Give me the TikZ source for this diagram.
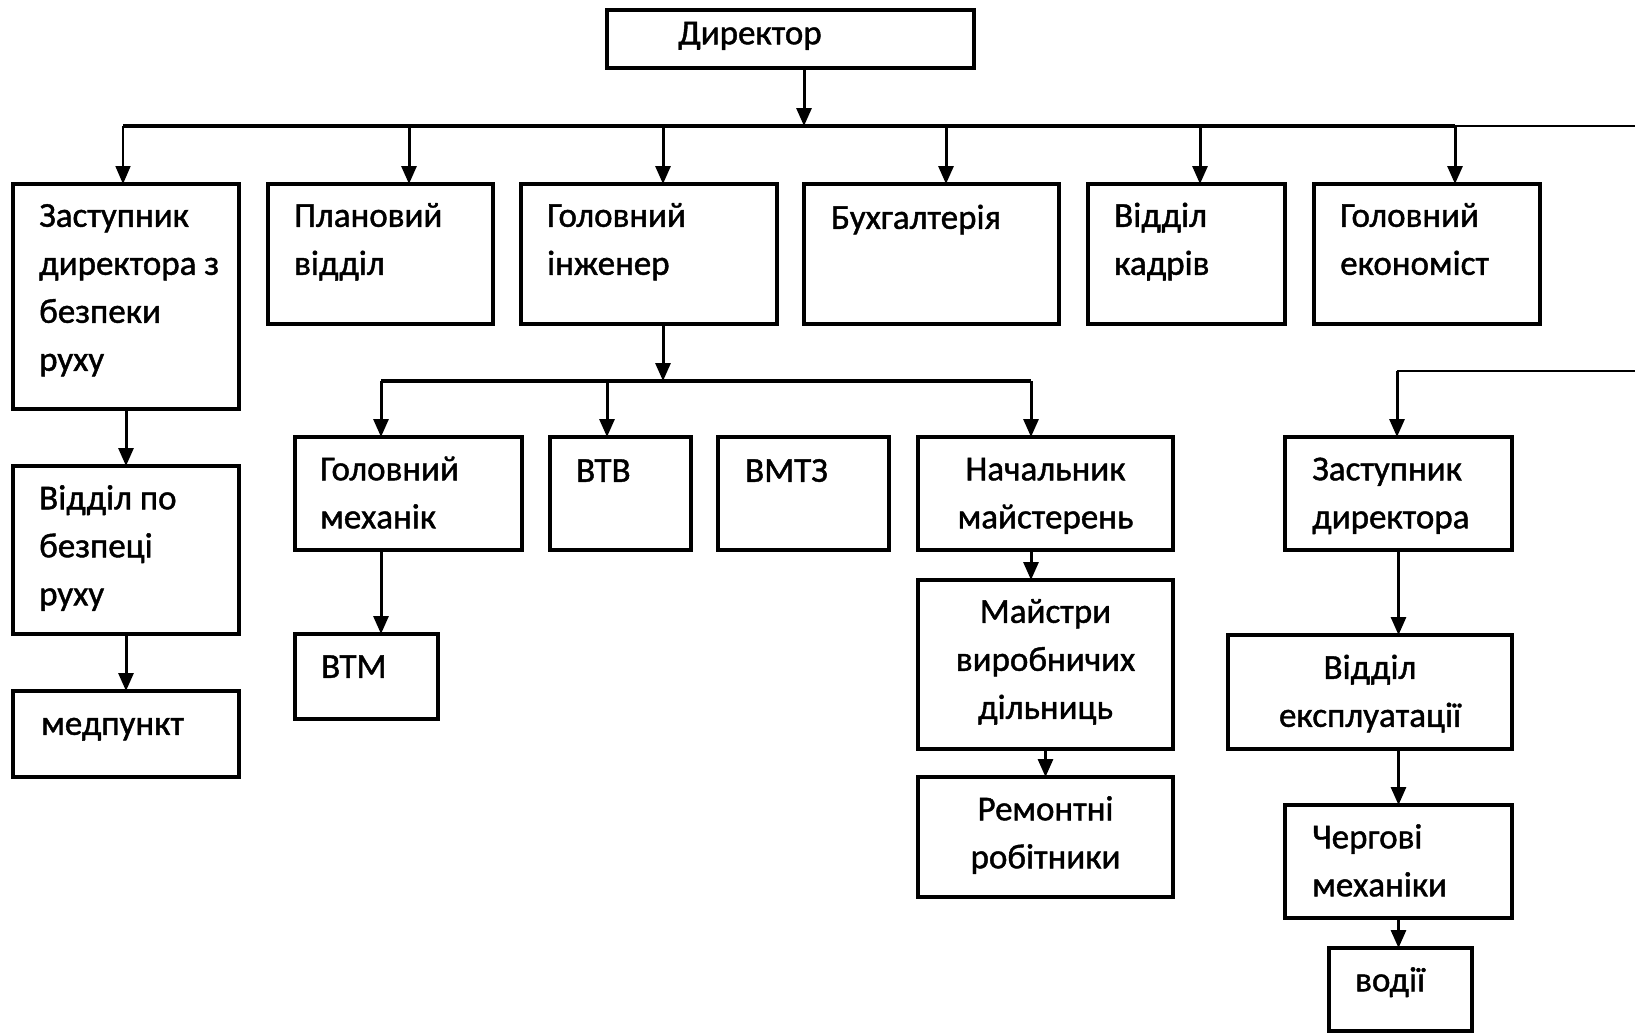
\documentclass[tikz,border=0pt]{standalone}
\usepackage{fontspec}
\setmainfont{Carlito}
\newfontfamily\lblfamily[FakeBold=1.2]{Carlito}
\usetikzlibrary{arrows.meta,calc}
\newcommand\boxfont{\lblfamily\fontsize{35}{48}\selectfont}
\begin{document}
\begin{tikzpicture}[x=1pt,y=-1pt,
  box/.style={draw, line width=3.2pt, rectangle, inner sep=0pt, outer sep=0pt, anchor=north west},
  lbl/.style={anchor=north west, inner sep=0pt, align=left, font=\boxfont},
  lblc/.style={anchor=north, inner sep=0pt, align=center, font=\boxfont},
  bus/.style={line width=3.4pt},
  thinline/.style={line width=1.8pt},
  arr/.style={line width=3pt, -{Triangle[width=15pt,length=18pt]}},
  arrthin/.style={line width=1.8pt, -{Triangle[width=15pt,length=18pt]}},
]
\fill[white] (0,0) rectangle (1635,1033);
\useasboundingbox (0,0) rectangle (1635,1033);

% boxes
\node[box, minimum width=367pt, minimum height=58pt] (dir) at (607,10) {};
\node[box, minimum width=226pt, minimum height=225pt] (z1) at (13,184) {};
\node[box, minimum width=225pt, minimum height=140pt] (plan) at (268,184) {};
\node[box, minimum width=256pt, minimum height=140pt] (gi) at (521,184) {};
\node[box, minimum width=255pt, minimum height=140pt] (buh) at (804,184) {};
\node[box, minimum width=197pt, minimum height=140pt] (vk) at (1088,184) {};
\node[box, minimum width=226pt, minimum height=140pt] (gec) at (1314,184) {};
\node[box, minimum width=227pt, minimum height=113pt] (gm) at (295,437) {};
\node[box, minimum width=141pt, minimum height=113pt] (vtv) at (550,437) {};
\node[box, minimum width=171pt, minimum height=113pt] (vmtz) at (718,437) {};
\node[box, minimum width=255pt, minimum height=113pt] (nm) at (918,437) {};
\node[box, minimum width=227pt, minimum height=113pt] (zd) at (1285,437) {};
\node[box, minimum width=226pt, minimum height=168pt] (vbr) at (13,466) {};
\node[box, minimum width=226pt, minimum height=86pt] (med) at (13,691) {};
\node[box, minimum width=143pt, minimum height=85pt] (vtm) at (295,634) {};
\node[box, minimum width=255pt, minimum height=169pt] (mvd) at (918,580) {};
\node[box, minimum width=255pt, minimum height=120pt] (rr) at (918,777) {};
\node[box, minimum width=284pt, minimum height=114pt] (ve) at (1228,635) {};
\node[box, minimum width=227pt, minimum height=113pt] (chm) at (1285,805) {};
\node[box, minimum width=143pt, minimum height=83pt] (vod) at (1329,948) {};

% texts
\node[lbl] (dirt) at ([shift={(71,0.5)}]dir.north west) {\strut Директор};
\node[lbl] (z1t) at ([shift={(26,9)}]z1.north west) {\strut Заступник\\директора з\\безпеки\\руху};
\node[lbl] (plant) at ([shift={(26,9)}]plan.north west) {\strut Плановий\\відділ};
\node[lbl] (git) at ([shift={(26,9)}]gi.north west) {\strut Головний\\інженер};
\node[lbl] (buht) at ([shift={(27,11)}]buh.north west) {\strut Бухгалтерія};
\node[lbl] (vkt) at ([shift={(26,9)}]vk.north west) {\strut Відділ\\кадрів};
\node[lbl] (gect) at ([shift={(26,9)}]gec.north west) {\strut Головний\\економіст};
\node[lbl] (gmt) at ([shift={(25,9.5)}]gm.north west) {\strut Головний\\механік};
\node[lbl] (vtvt) at ([shift={(26,11)}]vtv.north west) {\strut ВТВ};
\node[lbl] (vmtzt) at ([shift={(27,11)}]vmtz.north west) {\strut ВМТЗ};
\node[lblc] (nmt) at ([shift={(0,9.5)}]nm.north) {\strut Начальник\\майстерень};
\node[lbl] (zdt) at ([shift={(27,9.5)}]zd.north west) {\strut Заступник\\директора};
\node[lbl] (vbrt) at ([shift={(26,9.5)}]vbr.north west) {\strut Відділ по\\безпеці\\руху};
\node[lbl] (medt) at ([shift={(28,10)}]med.north west) {\strut медпункт};
\node[lbl] (vtmt) at ([shift={(26,10)}]vtm.north west) {\strut ВТМ};
\node[lblc] (mvdt) at ([shift={(0,9)}]mvd.north) {\strut Майстри\\виробничих\\дільниць};
\node[lblc] (rrt) at ([shift={(0,9.5)}]rr.north) {\strut Ремонтні\\робітники};
\node[lblc] (vet) at ([shift={(0,10)}]ve.north) {\strut Відділ\\експлуатації};
\node[lbl] (chmt) at ([shift={(27,9.5)}]chm.north west) {\strut Чергові\\механіки};
\node[lbl] (vodt) at ([shift={(26,9.5)}]vod.north west) {\strut водії};

% bus coordinates
\coordinate (d1) at (804,126);
\coordinate (b1) at (123,126);
\coordinate (b2) at (409,126);
\coordinate (b3) at (663,126);
\coordinate (b4) at (946,126);
\coordinate (b5) at (1200,126);
\coordinate (b6) at (1455,126);
\coordinate (e1) at (1635,126);
\coordinate (g0) at (663,381);
\coordinate (g1) at (381,381);
\coordinate (g2) at (607,381);
\coordinate (g4) at (1031,381);
\coordinate (e2) at (1635,371);
\coordinate (r1) at (1397,371);

% connectors
\draw[arr] (dir.south -| d1) -- (d1);
\draw[bus] (b1) -- (b6);
\draw[thinline] (b6) -- (e1);
\draw[arrthin] (b1) -- (b1 |- z1.north);
\draw[arr] (b2) -- (b2 |- plan.north);
\draw[arr] (b3) -- (b3 |- gi.north);
\draw[arr] (b4) -- (b4 |- buh.north);
\draw[arr] (b5) -- (b5 |- vk.north);
\draw[arr] (b6) -- (b6 |- gec.north);

\draw[arr] (gi.south -| g0) -- (g0);
\draw[bus] (g1) -- (g4);
\draw[arr] (g1) -- (g1 |- gm.north);
\draw[arr] (g2) -- (g2 |- vtv.north);
\draw[arr] (g4) -- (g4 |- nm.north);
\draw[arr] (gm.south -| g1) -- (g1 |- vtm.north);
\draw[arr] (nm.south -| g4) -- (g4 |- mvd.north);
\draw[arr] (mvd.south) -- (rr.north);

\draw[arr] (z1.south) -- (vbr.north);
\draw[arr] (vbr.south) -- (med.north);

\draw[thinline] (e2) -- (r1);
\draw[arr] (r1) -- (r1 |- zd.north);
\draw[arr] (zd.south) -- (zd.south |- ve.north);
\draw[arr] (zd.south |- ve.south) -- (chm.north);
\draw[arr] (chm.south) -- (chm.south |- vod.north);
\end{tikzpicture}
\end{document}
